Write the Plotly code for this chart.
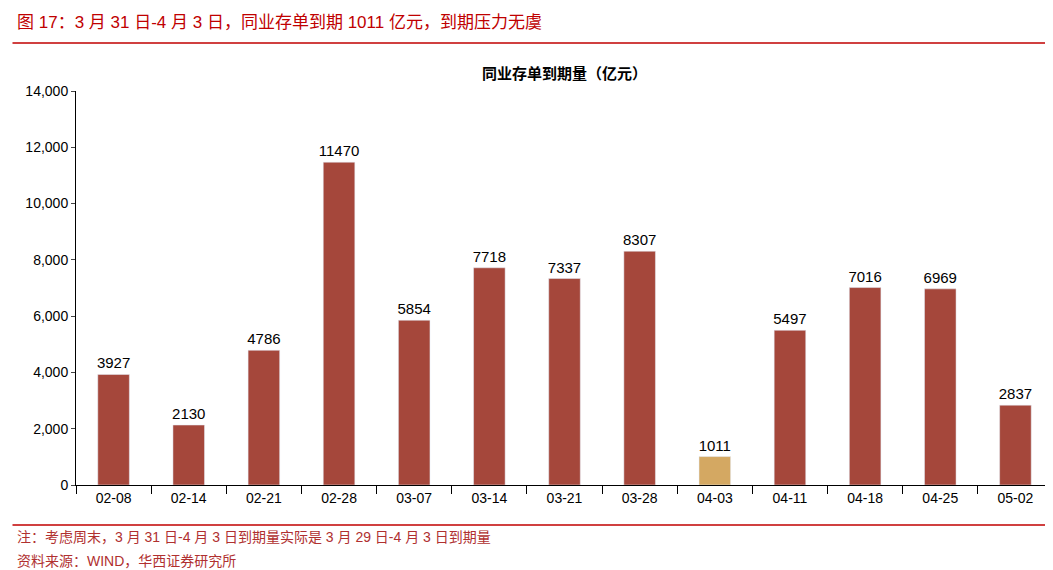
import plotly.graph_objects as go

categories = ["02-08","02-14","02-21","02-28","03-07","03-14","03-21","03-28","04-03","04-11","04-18","04-25","05-02"]
values = [3927,2130,4786,11470,5854,7718,7337,8307,1011,5497,7016,6969,2837]
highlight = "04-03"
colors = ["#D4A862" if c == highlight else "#A5473B" for c in categories]

font = "Liberation Sans, Noto Sans CJK SC"
fig = go.Figure(go.Bar(x=categories, y=values, marker_color=colors, width=0.42,
                       text=[str(v) for v in values], textposition="outside",
                       constraintext="none",
                       textfont=dict(size=15, color="#000"), cliponaxis=False))
fig.update_layout(
    width=1053, height=570, paper_bgcolor="white", plot_bgcolor="white",
    margin=dict(l=68, r=8, t=83, b=93, autoexpand=False), showlegend=False,
    font=dict(family=font, size=14, color="#000"),
    xaxis=dict(type="category", showline=True, linecolor="#000", ticks="outside",
               tickson="boundaries", ticklen=8, tickcolor="#000", tickfont=dict(size=14)),
    yaxis=dict(range=[0,14000], dtick=2000, tickformat=",", showgrid=False,
               showline=True, linecolor="#000", ticks="outside", ticklen=4, tickfont=dict(size=14)),
    annotations=[
        dict(text="图 17：3 月 31 日-4 月 3 日，同业存单到期 1011 亿元，到期压力无虞", x=-0.062, y=1, xref="paper", yref="paper",
             xanchor="left", yanchor="top", yshift=80, showarrow=False, font=dict(size=17, color="#C00000")),
        dict(text="<b>同业存单到期量（亿元）</b>", x=0.5, xref="paper", y=1, yref="paper", yshift=18, yanchor="middle",
             showarrow=False, font=dict(size=15)),
        dict(text="注：考虑周末，3 月 31 日-4 月 3 日到期量实际是 3 月 29 日-4 月 3 日到期量", x=-0.062, y=0, xref="paper", yref="paper",
             xanchor="left", yanchor="top", yshift=-42, showarrow=False, font=dict(size=14, color="#B03030")),
        dict(text="资料来源：WIND，华西证券研究所", x=-0.062, y=0, xref="paper", yref="paper",
             xanchor="left", yanchor="top", yshift=-66, showarrow=False, font=dict(size=14, color="#B03030")),
    ],
    shapes=[
        dict(type="line", xref="paper", yref="paper", x0=-0.065, x1=1.008, ysizemode="pixel", yanchor=1, y0=48, y1=48,
             line=dict(color="#C00000", width=1.5)),
        dict(type="line", xref="paper", yref="paper", x0=-0.065, x1=1.008, ysizemode="pixel", yanchor=0, y0=-40, y1=-40,
             line=dict(color="#C00000", width=1.5)),
    ],
)
fig.write_html("out.html")
